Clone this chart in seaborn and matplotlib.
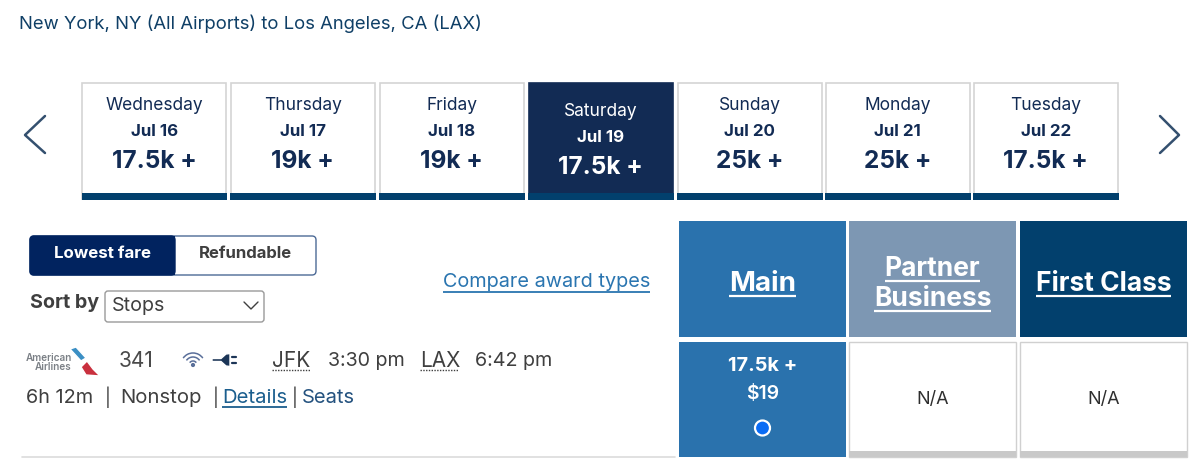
import matplotlib
matplotlib.use('Agg')
import matplotlib.pyplot as plt
from matplotlib.patches import Rectangle, FancyBboxPatch, Polygon, Circle, Arc
import seaborn as sns

# fare calendar
days = ['Wednesday', 'Thursday', 'Friday', 'Saturday', 'Sunday', 'Monday', 'Tuesday']
dates = ['Jul 16', 'Jul 17', 'Jul 18', 'Jul 19', 'Jul 20', 'Jul 21', 'Jul 22']
fares_k = [17.5, 19, 19, 17.5, 25, 25, 17.5]
selected_day = 'Saturday'

# cabins and the single flight row
cabins = ['Main', 'Partner\nBusiness', 'First Class']
cabin_colors = ['#2a72ad', '#7d97b3', '#02406d']
cabin_prices = ['17.5k +\n$19', 'N/A', 'N/A']

NAVY = '#122b54'
STRIP = '#02406d'
GREY = '#3f3f3f'
LINK = '#2a75b0'

sns.set_theme(style='white')
plt.rcParams['font.family'] = ['Inter', 'DejaVu Sans']

fig = plt.figure(figsize=(12, 4.7), dpi=100, facecolor='white')
ax = fig.add_axes([0, 0, 1, 1])

# date tiles, one bar per day
tile_left = [81.5, 230, 379, 528, 677, 825, 973]
tile_w = 145.5
tile_df_x = [x + tile_w / 2 for x in tile_left]
tile_colors = [NAVY if d == selected_day else 'white' for d in days]
sns.barplot(x=tile_df_x, y=[116] * 7, native_scale=True, bottom=83, width=0.97,
            hue=days, palette=tile_colors, saturation=1, legend=False, edgecolor='#d4d4d4',
            linewidth=1.2, ax=ax)
for bar, day in zip(ax.patches, days):
    if day == selected_day:
        bar.set_edgecolor(NAVY)

ax.set_xlim(0, 1200)
ax.set_ylim(470, 0)
ax.axis('off')


def txt(x, y, s, size, color=GREY, weight='normal', ha='left', underline=False, ul_off=11, ul_lw=1.3):
    t = ax.text(x, y + 1, s, fontsize=size, color=color, fontweight=weight, ha=ha, va='center')
    if underline:
        box = t.get_window_extent(fig.canvas.get_renderer())
        x0 = box.x0 * 1200 / fig.bbox.width
        x1 = box.x1 * 1200 / fig.bbox.width
        ax.plot([x0, x1], [y + ul_off, y + ul_off], color=color, lw=ul_lw, solid_capstyle='butt')
    return t


def rect(x0, y0, x1, y1, face, edge='none', lw=0):
    ax.add_patch(Rectangle((x0, y0), x1 - x0, y1 - y0, facecolor=face, edgecolor=edge, linewidth=lw))


txt(19, 23, 'New York, NY (All Airports) to Los Angeles, CA (LAX)', 13.3, color='#0f3f66')

for i, (day, date, fare) in enumerate(zip(days, dates, fares_k)):
    x0 = tile_left[i]
    cx = x0 + tile_w / 2
    on = day == selected_day
    shift = 6 if on else 0
    col = 'white' if on else NAVY
    rect(x0, 193, x0 + tile_w, 199.5, STRIP)
    txt(cx, 104 + shift, day, 12.5, color=col, ha='center')
    txt(cx, 130 + shift, date, 12.2, color=col, weight='bold', ha='center')
    txt(cx, 161 + shift, f'{fare:g}k +', 17.6, color=col, weight='bold', ha='center')

# arrows either side of the tiles
ax.plot([45, 25, 45], [116, 135, 153], color='#34506f', lw=1.8)
ax.plot([1160, 1179, 1160], [116, 135, 153], color='#34506f', lw=1.8)

# lowest fare / refundable toggle
ax.add_patch(FancyBboxPatch((30, 236), 286, 39, boxstyle='round,pad=0,rounding_size=4',
                            facecolor='white', edgecolor='#4c6a96', linewidth=1))
ax.add_patch(FancyBboxPatch((30, 236), 145, 39, boxstyle='round,pad=0,rounding_size=4',
                            facecolor='#01235f', edgecolor='#01235f', linewidth=1))
rect(165, 236, 175, 275, '#01235f')
txt(102, 253, 'Lowest fare', 12.2, color='white', weight='bold', ha='center')
txt(245, 253, 'Refundable', 12, color=GREY, weight='bold', ha='center')

txt(30, 302, 'Sort by', 14.2, weight='bold')
ax.add_patch(FancyBboxPatch((105, 291), 159, 31, boxstyle='round,pad=0,rounding_size=3',
                            facecolor='white', edgecolor='#9a9a9a', linewidth=1))
txt(112, 305, 'Stops', 14.2)
ax.plot([244, 251, 258], [302, 309, 302], color=GREY, lw=1)

txt(443, 281, 'Compare award types', 14.3, color=LINK, underline=True, ul_off=11)

# cabin headers
cabin_left = [679, 849, 1020]
cabin_w = 167
for x0, name, col in zip(cabin_left, cabins, cabin_colors):
    rect(x0, 221, x0 + cabin_w, 337, col)
    cx = x0 + cabin_w / 2
    parts = name.split('\n')
    ys = [283] if len(parts) == 1 else [268, 298]
    size = 20 if name == 'Main' else 19
    for y, part in zip(ys, parts):
        txt(cx, y, part, size, color='white', weight='bold', ha='center', underline=True, ul_off=13, ul_lw=1.6)

# price cells
for x0, price, col in zip(cabin_left, cabin_prices, cabin_colors):
    cx = x0 + cabin_w / 2
    if price == 'N/A':
        rect(x0, 342, x0 + cabin_w, 456.5, 'white', edge='#d0d0d0', lw=1)
        rect(x0, 451, x0 + cabin_w, 456.5, '#c9c9c9')
        txt(cx, 398, price, 13, color='#2e2e2e', ha='center')
    else:
        rect(x0, 342, x0 + cabin_w, 456.5, col)
        pts, cash = price.split('\n')
        txt(cx, 365, pts, 14.4, color='white', weight='bold', ha='center')
        txt(cx, 393, cash, 14, color='white', weight='semibold', ha='center')
        ax.add_patch(Circle((cx, 428), 7.5, facecolor='#0a6cf5', edgecolor='white', linewidth=1.6))

# flight row
ax.text(49, 358, 'American', fontsize=7.2, color='#7b8086', ha='center', va='center', fontweight='semibold')
ax.text(53, 367, 'Airlines', fontsize=7.2, color='#7b8086', ha='center', va='center', fontweight='semibold')
ax.add_patch(Polygon([[70, 349], [76, 347], [86, 358], [81, 361]], facecolor='#3b8fc4'))
ax.add_patch(Polygon([[81, 367], [87, 361], [93, 369], [100, 376], [86, 375]], facecolor='#c9303e'))

txt(119, 360, '341', 15, color='#4a4a4a')

for r in [4, 8, 12]:
    ax.add_patch(Arc((193, 365), 2 * r, 2 * r, theta1=215, theta2=325, color='#5a6f9a', lw=1.1))
ax.add_patch(Circle((193, 365), 1.4, color='#5a6f9a'))
ax.add_patch(Polygon([[212, 358.5], [221, 358.5], [226, 354], [230, 353.5], [230, 366.5], [226, 366],
                      [221, 361.5], [212, 361.5]], facecolor='#1c3557'))
ax.plot([232, 236], [357, 357], color='#1c3557', lw=1.6)
ax.plot([232, 236], [363, 363], color='#1c3557', lw=1.6)

txt(272, 360, 'JFK', 15)
ax.plot([272, 310], [370, 370], color=GREY, lw=1, ls=(0, (1, 1)))
txt(328, 360, '3:30 pm', 14.2)
txt(420, 360, 'LAX', 15)
ax.plot([420, 458], [370, 370], color=GREY, lw=1, ls=(0, (1, 1)))
txt(475, 360, '6:42 pm', 14.2)

txt(26, 397, '6h 12m', 14.3)
txt(105, 396, '|', 12.8)
txt(120, 397, 'Nonstop', 14.6)
txt(213, 396, '|', 12.8)
txt(222, 397, 'Details', 14.6, color='#1b5e8e', underline=True, ul_off=10)
txt(292, 396, '|', 12.8)
txt(302, 397, 'Seats', 14.5, color='#24527f')

ax.plot([22, 675], [457, 457], color='#dcdcdc', lw=1.2)

fig.savefig('out.png', dpi=100, facecolor='white')
